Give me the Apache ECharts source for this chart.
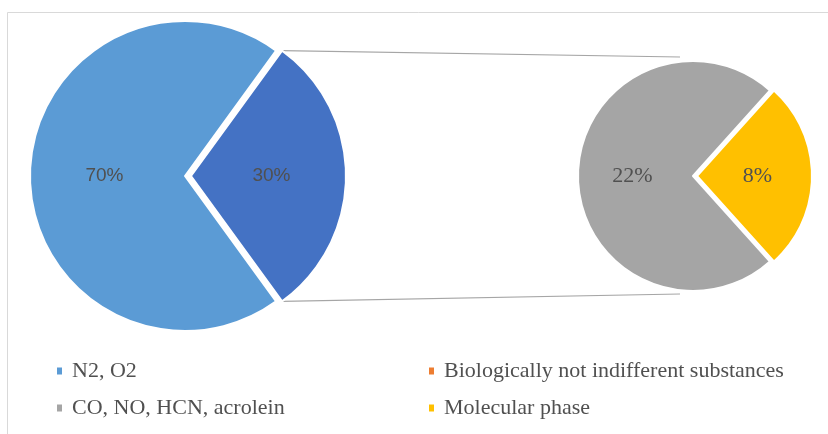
<!DOCTYPE html>
<html>
<head>
<meta charset="utf-8">
<script src="https://cdn.jsdelivr.net/npm/echarts@6/dist/echarts.min.js"></script>
<style>html,body{margin:0;padding:0;background:#fff;}#c{width:828px;height:434px;}</style>
</head>
<body>
<div id="c"></div>
<script>
// Data
const mainNames = ['Biologically not indifferent substances', 'N2, O2'];
const mainValues = [30, 70];
const subNames = ['Molecular phase', 'CO, NO, HCN, acrolein'];
const subValues = [8, 22];
const legendLeftNames = ['N2, O2', 'CO, NO, HCN, acrolein'];
const legendRightNames = ['Biologically not indifferent substances', 'Molecular phase'];

const colors = {
  'N2, O2': '#5B9BD5',
  'Biologically not indifferent substances': '#4472C4',
  'CO, NO, HCN, acrolein': '#A5A5A5',
  'Molecular phase': '#FFC000'
};
const legendColors = {
  'Biologically not indifferent substances': '#ED7D31'
};

// geometry
const L = {cx: 185, cy: 176, r: 155, off: 6};
const R = {cx: 693, cy: 176, r: 115, off: 4};
const mainStart = 360 * mainValues[0] / (mainValues[0] + mainValues[1]) / 2;
const subStart = 360 * subValues[0] / (subValues[0] + subValues[1]) / 2;

const chart = echarts.init(document.getElementById('c'), null, {renderer: 'canvas'});

function pieData(names, values, exploded) {
  return names.map((n, i) => ({
    name: n, value: values[i], selected: i === exploded,
    itemStyle: {color: colors[n]}
  }));
}
function legendData(names) {
  return names.map(n => ({name: n, itemStyle: {color: legendColors[n] || colors[n]}}));
}

const a = mainStart * Math.PI / 180;
const topStart = [L.cx + L.off + L.r * Math.cos(a), L.cy - L.r * Math.sin(a)];
const botStart = [L.cx + L.off + L.r * Math.cos(a), L.cy + L.r * Math.sin(a)];
const topEnd = [R.cx - 13, R.cy - R.r - 4];
const botEnd = [R.cx - 13, R.cy + R.r + 3];

const legendCommon = {
  orient: 'vertical', top: 360, padding: 0, itemGap: 15, icon: 'rect', itemWidth: 7, itemHeight: 9,
  selectedMode: false,
  textStyle: {fontFamily: 'Liberation Serif', fontSize: 22, color: '#505050', padding: [0, 0, 0, 4]}
};

chart.setOption({
  animation: false,
  backgroundColor: '#fff',
  legend: [
    Object.assign({left: 55, data: legendData(legendLeftNames)}, legendCommon),
    Object.assign({left: 427, data: legendData(legendRightNames)}, legendCommon)
  ],
  graphic: [
    {type: 'rect', shape: {x: 7.5, y: 12.5, width: 840, height: 440}, style: {fill: 'none', stroke: '#D9D9D9', lineWidth: 1}, silent: true, z: -10},
    {type: 'line', shape: {x1: topStart[0], y1: topStart[1], x2: topEnd[0], y2: topEnd[1]}, style: {stroke: '#A6A6A6', lineWidth: 1.2}, silent: true},
    {type: 'line', shape: {x1: botStart[0], y1: botStart[1], x2: botEnd[0], y2: botEnd[1]}, style: {stroke: '#A6A6A6', lineWidth: 1.2}, silent: true}
  ],
  series: [
    {
      type: 'pie', center: [L.cx, L.cy], radius: [0, L.r], startAngle: mainStart,
      selectedMode: 'single', selectedOffset: L.off,
      data: pieData(mainNames, mainValues, 0),
      itemStyle: {borderColor: '#fff', borderWidth: 2},
      select: {itemStyle: {borderColor: '#fff', borderWidth: 2}},
      emphasis: {disabled: true},
      label: {show: true, position: 'inside', formatter: '{c}%', fontFamily: 'Liberation Sans', fontSize: 19, color: '#505050'},
      labelLine: {show: false}
    },
    {
      type: 'pie', center: [R.cx, R.cy], radius: [0, R.r], startAngle: subStart,
      selectedMode: 'single', selectedOffset: R.off,
      data: pieData(subNames, subValues, 0),
      itemStyle: {borderColor: '#fff', borderWidth: 2},
      select: {itemStyle: {borderColor: '#fff', borderWidth: 2}},
      emphasis: {disabled: true},
      label: {show: true, position: 'inside', formatter: '{c}%', fontFamily: 'Liberation Serif', fontSize: 22, color: '#505050'},
      labelLine: {show: false}
    }
  ]
});
</script>
</body>
</html>
